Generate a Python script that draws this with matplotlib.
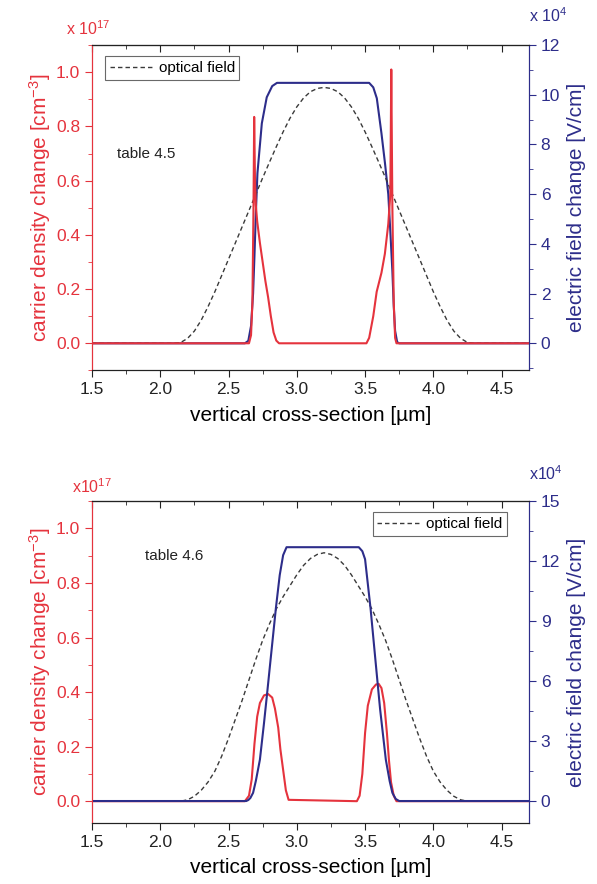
import matplotlib
matplotlib.use("Agg")
import matplotlib.pyplot as plt
from matplotlib.ticker import MultipleLocator

plt.rcParams["font.family"] = ["Liberation Sans", "DejaVu Sans"]
plt.rcParams["mathtext.fontset"] = "custom"
plt.rcParams["mathtext.rm"] = "Liberation Sans"
plt.rcParams["mathtext.default"] = "regular"

RED = "#e5333d"
NAVY = "#2d2d8a"
GREY = "#3a3a3a"

# ---- table 4.5 (top panel) ----
red_x_a = [1.5, 2.65, 2.665, 2.675, 2.683, 2.688, 2.694, 2.70, 2.71, 2.73, 2.75,
           2.77, 2.79, 2.81, 2.83, 2.85, 2.87, 3.51, 3.53, 3.56, 3.585, 3.62,
           3.645, 3.67, 3.685, 3.692, 3.70, 3.71, 3.72, 3.73, 4.7]
red_y_a = [0.0, 0.0, 0.03, 0.15, 0.5, 0.835, 0.6, 0.51, 0.45, 0.37, 0.30,
           0.23, 0.17, 0.10, 0.04, 0.01, 0.0, 0.0, 0.02, 0.10, 0.19, 0.26,
           0.33, 0.44, 0.55, 1.01, 0.5, 0.15, 0.02, 0.0, 0.0]

blue_x_a = [1.5, 2.62, 2.645, 2.665, 2.68, 2.69, 2.70, 2.712, 2.744, 2.78,
            2.82, 2.855, 3.53, 3.56, 3.586, 3.62, 3.646, 3.67, 3.685, 3.70,
            3.71, 3.72, 3.735, 3.75, 4.7]
blue_y_a = [0.0, 0.0, 0.1, 0.7, 2.0, 3.5, 5.2, 6.85, 8.85, 9.9,
            10.35, 10.48, 10.48, 10.3, 9.86, 8.45, 7.24, 6.0, 4.5, 2.9,
            1.5, 0.5, 0.05, 0.0, 0.0]

opt_x = [1.5, 2.1, 2.15, 2.2, 2.25, 2.3, 2.35, 2.4, 2.45, 2.5, 2.55, 2.6, 2.65,
         2.7, 2.75, 2.8, 2.85, 2.9, 2.95, 3.0, 3.05, 3.1, 3.15, 3.2, 3.25,
         3.3, 3.35, 3.4, 3.45, 3.5, 3.55, 3.6, 3.65, 3.7, 3.75, 3.8, 3.85,
         3.9, 3.95, 4.0, 4.05, 4.1, 4.15, 4.2, 4.25, 4.3, 4.7]
opt_y_a = [0.0, 0.0, 0.003, 0.018, 0.045, 0.085, 0.135, 0.19, 0.25, 0.31,
           0.37, 0.43, 0.49, 0.55, 0.61, 0.668, 0.725, 0.78, 0.83, 0.872,
           0.905, 0.928, 0.94, 0.944, 0.94, 0.928, 0.905, 0.872, 0.83, 0.78,
           0.725, 0.668, 0.61, 0.55, 0.49, 0.43, 0.37, 0.31, 0.25, 0.19,
           0.135, 0.085, 0.045, 0.018, 0.003, 0.0, 0.0]

# ---- table 4.6 (bottom panel) ----
red_x_b = [1.5, 2.62, 2.65, 2.67, 2.69, 2.71, 2.73, 2.76, 2.79, 2.82, 2.84,
           2.864, 2.88, 2.90, 2.92, 2.94, 3.44, 3.46, 3.48, 3.50, 3.52,
           3.55, 3.58, 3.60, 3.62, 3.64, 3.66, 3.675, 3.69, 3.71, 3.73, 4.7]
red_y_b = [0.0, 0.0, 0.02, 0.08, 0.21, 0.31, 0.36, 0.388, 0.393, 0.38, 0.34,
           0.27, 0.19, 0.115, 0.04, 0.005, 0.0, 0.02, 0.10, 0.25, 0.35,
           0.41, 0.428, 0.43, 0.415, 0.36, 0.25, 0.15, 0.07, 0.02, 0.0, 0.0]

blue_x_b = [1.5, 2.63, 2.645, 2.66, 2.68, 2.70, 2.73, 2.76, 2.783, 2.807,
            2.847, 2.875, 2.90, 2.925, 3.454, 3.48, 3.50, 3.54, 3.578, 3.61,
            3.652, 3.68, 3.70, 3.725, 3.75, 4.7]
blue_y_b = [0.0, 0.0, 0.05, 0.15, 0.41, 1.0, 2.07, 3.9, 5.4, 7.0,
            9.65, 11.3, 12.3, 12.7, 12.7, 12.5, 12.1, 9.65, 6.9, 4.6,
            2.07, 1.0, 0.41, 0.1, 0.0, 0.0]

opt_y_b = [0.0, 0.0, 0.0, 0.005, 0.018, 0.04, 0.07, 0.11, 0.165, 0.23,
           0.30, 0.37, 0.445, 0.52, 0.59, 0.65, 0.705, 0.75, 0.79, 0.83,
           0.865, 0.89, 0.905, 0.911, 0.905, 0.89, 0.865, 0.83, 0.79, 0.75,
           0.705, 0.65, 0.59, 0.52, 0.445, 0.37, 0.30, 0.23, 0.165, 0.11,
           0.07, 0.04, 0.018, 0.005, 0.0, 0.0, 0.0]

fig = plt.figure(figsize=(5.97, 8.84), dpi=100)


def panel(rect, rx, ry, bx, by, oy, ylim1, ylim2, r_major, r_minor, label,
          label_xy, legend_loc, legend_anchor, red_on_top, mult1, mult2):
    ax1 = fig.add_axes(rect)
    ax2 = ax1.twinx()

    ax1.plot(opt_x, oy, color=GREY, lw=1.0, ls=(0, (3.2, 2.2)),
             label="optical field", zorder=2)
    ax1.plot(rx, ry, color=RED, lw=1.5, zorder=3)
    ax2.plot(bx, by, color=NAVY, lw=1.5)
    if red_on_top:
        ax1.set_zorder(ax2.get_zorder() + 1)
        ax1.patch.set_visible(False)

    ax1.set_xlim(1.5, 4.7)
    ax1.set_ylim(*ylim1)
    ax2.set_ylim(*ylim2)

    ax1.xaxis.set_major_locator(MultipleLocator(0.5))
    ax1.xaxis.set_minor_locator(MultipleLocator(0.25))
    ax1.yaxis.set_major_locator(MultipleLocator(0.2))
    ax1.yaxis.set_minor_locator(MultipleLocator(0.1))
    ax2.yaxis.set_major_locator(MultipleLocator(r_major))
    ax2.yaxis.set_minor_locator(MultipleLocator(r_minor))

    # top spine carries inward ticks, bottom ones point out
    top = ax1.secondary_xaxis("top")
    top.xaxis.set_major_locator(MultipleLocator(0.5))
    top.xaxis.set_minor_locator(MultipleLocator(0.25))
    top.tick_params(which="both", direction="in", labeltop=False,
                    colors="#222222")
    top.tick_params(which="major", length=5)
    top.tick_params(which="minor", length=3)
    top.spines["top"].set_color("#222222")

    ax1.tick_params(axis="x", which="both", direction="out", top=False,
                    labelsize=12.5, colors="#222222")
    ax1.tick_params(axis="x", which="major", length=5)
    ax1.tick_params(axis="x", which="minor", length=3)
    ax1.tick_params(axis="y", which="both", direction="out", colors=RED,
                    labelsize=12.5)
    ax1.tick_params(axis="y", which="major", length=5)
    ax1.tick_params(axis="y", which="minor", length=3)
    ax2.tick_params(axis="y", which="both", direction="out", colors=NAVY,
                    labelsize=12.5)
    ax2.tick_params(axis="y", which="major", length=5)
    ax2.tick_params(axis="y", which="minor", length=3)
    ax1.yaxis.set_major_formatter(plt.FormatStrFormatter("%.1f"))

    for ax in (ax1, ax2):
        ax.spines["left"].set_color(RED)
        ax.spines["right"].set_color(NAVY)
        ax.spines["top"].set_color("#222222")
        ax.spines["bottom"].set_color("#222222")

    ax1.set_xlabel("vertical cross-section [µm]", fontsize=15, labelpad=6)
    ax1.set_ylabel("carrier density change [cm$^{-3}$]", fontsize=15,
                   color=RED, labelpad=2)
    ax2.set_ylabel("electric field change [V/cm]", fontsize=15,
                   color=NAVY, labelpad=5)

    ax1.text(label_xy[0], label_xy[1], label, fontsize=11, color="#222222",
             va="center")
    leg = ax1.legend(loc=legend_loc, bbox_to_anchor=legend_anchor,
                     fontsize=11, frameon=True, fancybox=False,
                     handlelength=2.8, handletextpad=0.4, borderpad=0.3,
                     borderaxespad=0.0)
    leg.get_frame().set_edgecolor("#444444")
    leg.get_frame().set_linewidth(0.8)

    ax1.text(mult1[0], mult1[1], mult1[2], transform=ax1.transAxes,
             color=RED, fontsize=11.5, ha="left", va="center")
    ax2.text(mult2[0], mult2[1], mult2[2], transform=ax2.transAxes,
             color=NAVY, fontsize=11.5, ha="left", va="center")
    return ax1, ax2


panel([0.154, 0.581, 0.732, 0.368], red_x_a, red_y_a, blue_x_a, blue_y_a,
      opt_y_a, (-0.1, 1.1), (-1.09, 12), 2, 1, "table 4.5", (1.68, 0.70),
      "upper left", (0.03, 0.965), True,
      (-0.06, 1.05, "x 10$^{17}$"), (1.0, 1.09, "x 10$^{4}$"))

panel([0.154, 0.069, 0.732, 0.364], red_x_b, red_y_b, blue_x_b, blue_y_b,
      opt_y_b, (-0.08, 1.1), (-1.1, 15), 3, 1.5, "table 4.6", (1.89, 0.90),
      "upper right", (0.95, 0.965), False,
      (-0.045, 1.045, "x10$^{17}$"), (1.0, 1.085, "x10$^{4}$"))

fig.savefig("out.png", dpi=100)
